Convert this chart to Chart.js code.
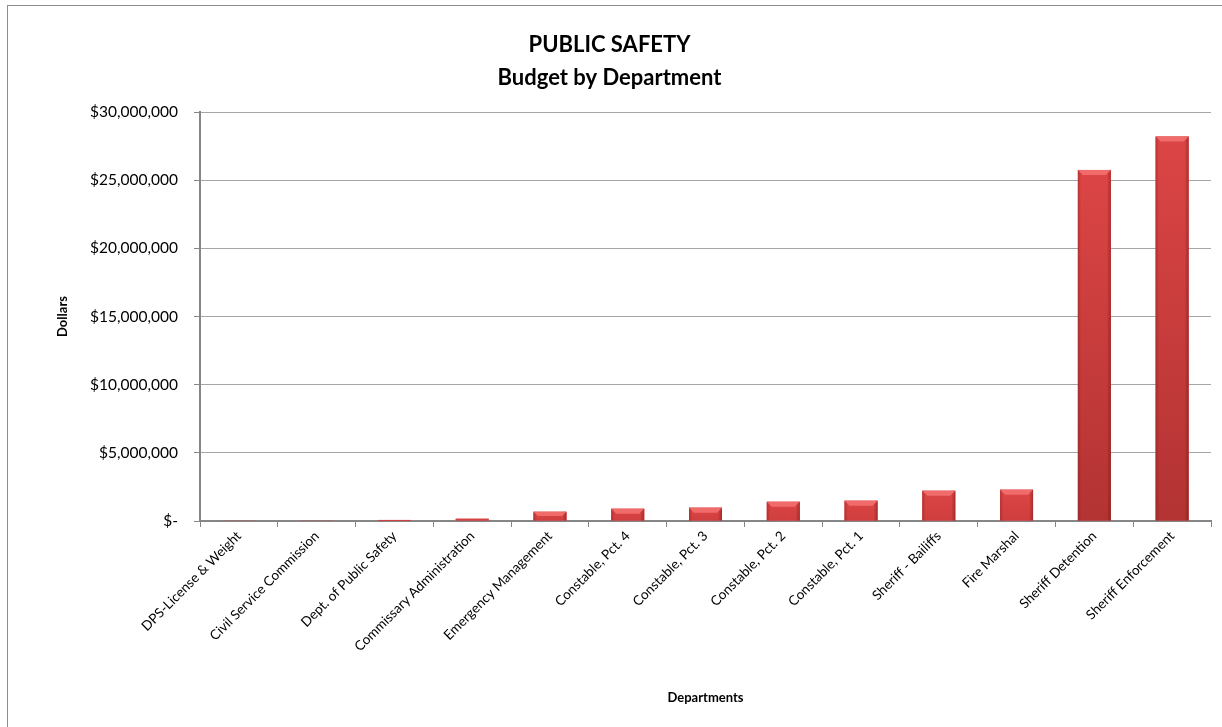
<!DOCTYPE html>
<html>
<head>
<meta charset="utf-8">
<script src="https://cdn.jsdelivr.net/npm/chart.js@4"></script>
<style>
html, body { margin: 0; padding: 0; background: #fff; }
#wrap { width: 1222px; height: 727px; position: relative; }
</style>
</head>
<body>
<div id="wrap"><canvas id="budget"></canvas></div>
<script>
var titleLines = ['PUBLIC SAFETY', 'Budget by Department'];
var departments = ['DPS-License & Weight', 'Civil Service Commission', 'Dept. of Public Safety',
  'Commissary Administration', 'Emergency Management', 'Constable, Pct. 4', 'Constable, Pct. 3',
  'Constable, Pct. 2', 'Constable, Pct. 1', 'Sheriff - Bailiffs', 'Fire Marshal',
  'Sheriff Detention', 'Sheriff Enforcement'];
var budget = [15000, 60000, 80000, 170000, 680000, 900000, 980000,
  1410000, 1490000, 2220000, 2300000, 25750000, 28200000];
var yMin = 0, yMax = 30000000, yStep = 5000000;

var fontFamily = 'Lato, "Open Sans", sans-serif';

function dollars(v) {
  if (v === 0) return '$-';
  return '$' + v.toLocaleString('en-US');
}

// white background + frame
var framePlugin = {
  id: 'frame',
  beforeDraw: function(chart) {
    var ctx = chart.ctx;
    ctx.save();
    ctx.fillStyle = '#fff';
    ctx.fillRect(0, 0, chart.width, chart.height);
    ctx.strokeStyle = '#8c8c8c';
    ctx.lineWidth = 1;
    ctx.strokeRect(7.5, 5.5, 1400, 900);
    ctx.restore();
  }
};

// shading to look like Excel's bevelled bars
var bevelPlugin = {
  id: 'bevel',
  afterDatasetsDraw: function(chart) {
    var ctx = chart.ctx;
    var meta = chart.getDatasetMeta(0);
    ctx.save();
    meta.data.forEach(function(bar) {
      var p = bar.getProps(['x', 'y', 'base', 'width'], true);
      var left = p.x - p.width / 2, right = p.x + p.width / 2;
      var top = p.y, h = p.base - p.y;
      if (h < 0.5) return;
      var body = ctx.createLinearGradient(0, top, 0, p.base);
      body.addColorStop(0, '#dc4545');
      body.addColorStop(1, h > 60 ? '#b33333' : '#cf3e3e');
      ctx.fillStyle = body;
      ctx.fillRect(left, top, p.width, Math.max(h, 1));
      if (h < 3) return;
      var side = ctx.createLinearGradient(left, 0, right, 0);
      side.addColorStop(0, 'rgba(100,10,10,0.3)');
      side.addColorStop(0.1, 'rgba(100,10,10,0)');
      side.addColorStop(0.88, 'rgba(100,10,10,0)');
      side.addColorStop(1, 'rgba(100,10,10,0.4)');
      ctx.fillStyle = side;
      ctx.fillRect(left, top, p.width, h);
      var b = Math.min(5, h / 2);
      ctx.beginPath();
      ctx.moveTo(left, top);
      ctx.lineTo(right, top);
      ctx.lineTo(right - b, top + b);
      ctx.lineTo(left + b, top + b);
      ctx.closePath();
      ctx.fillStyle = 'rgba(250,120,120,0.75)';
      ctx.fill();
    });
    ctx.restore();
  }
};

var ctx = document.getElementById('budget').getContext('2d');

var barChart = new Chart(ctx, {
  type: 'bar',
  data: {
    labels: departments,
    datasets: [{
      label: 'Budget',
      data: budget,
      backgroundColor: '#d64141',
      categoryPercentage: 1,
      barPercentage: 0.424
    }]
  },
  options: {
    responsive: true,
    maintainAspectRatio: false,
    animation: false,
    layout: { padding: { left: 8, right: 11, top: 0, bottom: 0 } },
    plugins: {
      legend: { display: false },
      tooltip: { enabled: false },
      title: {
        display: true,
        text: titleLines,
        color: '#000',
        font: { family: fontFamily, size: 22, weight: 'bold', lineHeight: 1.5 },
        padding: { top: 28, bottom: 18 }
      }
    },
    scales: {
      x: {
        grid: { display: true, drawOnChartArea: false, offset: true, tickLength: 6, tickColor: '#868686' },
        border: { color: '#868686', width: 2 },
        ticks: {
          autoSkip: false, minRotation: 45, maxRotation: 45, padding: 1,
          color: '#000', font: { family: fontFamily, size: 13.5 }
        },
        title: {
          display: true, text: 'Departments', color: '#000',
          font: { family: fontFamily, size: 13, weight: 'bold' },
          padding: { top: 0, bottom: 21 }
        },
        afterFit: function(scale) { scale.height = 206; }
      },
      y: {
        min: yMin, max: yMax,
        grid: { color: '#a6a6a6', tickLength: 6, tickColor: '#868686' },
        border: { color: '#868686', width: 2 },
        ticks: {
          stepSize: yStep, padding: 16, color: '#000',
          font: { family: fontFamily, size: 15.5 },
          callback: function(v) { return dollars(v); }
        },
        title: {
          display: true, text: 'Dollars', color: '#000',
          font: { family: fontFamily, size: 13, weight: 'bold' },
          padding: { top: 47, bottom: 0 }
        },
        afterFit: function(scale) { scale.width = 192; }
      }
    }
  },
  plugins: [framePlugin, bevelPlugin]
});
</script>
</body>
</html>
